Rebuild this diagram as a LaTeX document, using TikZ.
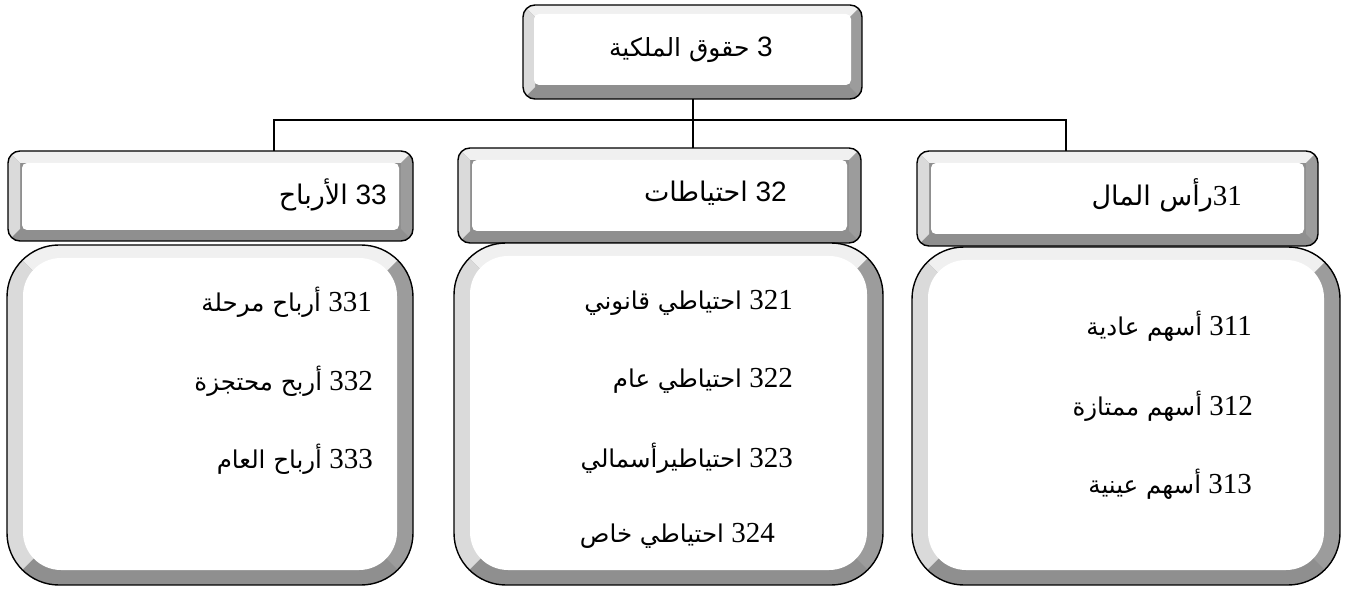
\documentclass[tikz,border=0pt]{standalone}
\usepackage{fontspec}
\setmainfont{Liberation Serif}
\newfontfamily\arabicfont[Script=Arabic]{DejaVu Sans}
\newfontfamily\sansnum{Liberation Sans}
\TeXXeTstate=1
\newcommand\artxt[2][24.5]{{\arabicfont\fontsize{#1}{30}\selectfont\beginR #2\endR}}
\definecolor{bevdark}{HTML}{8F8F8F}
\definecolor{bevright}{HTML}{9C9C9C}
\definecolor{bevleft}{HTML}{DADADA}
\definecolor{bevtop}{HTML}{F0F0F0}
% #1 x1, #2 y1, #3 x2, #4 y2, #5 outer radius, #6 inner radius, #7 side bevel, #8 top bevel, #9 bottom bevel
\newcommand\bevel[9]{%
  \begin{scope}
    \clip[rounded corners=#5] (#1,#2) rectangle (#3,#4);
    \fill[bevdark] (#1,#2) rectangle (#3,#4);
    \fill[bevtop] (#1,#2) -- (#3,#2) -- ({#3-#5},{#2+#5}) -- ({#1+#5},{#2+#5}) -- cycle;
    \fill[bevleft] (#1,#2) -- ({#1+#5},{#2+#5}) -- ({#1+#5},{#4-#5}) -- (#1,#4) -- cycle;
    \fill[bevright] (#3,#2) -- ({#3-#5},{#2+#5}) -- ({#3-#5},{#4-#5}) -- (#3,#4) -- cycle;
  \end{scope}
  \fill[white, rounded corners=#6] ({#1+#7},{#2+#8}) rectangle ({#3-#7},{#4-#9});
}
\tikzset{
  conn/.style={line width=2pt, draw=black},
  outl/.style={rectangle, draw=black, line width=1.4pt, inner sep=0pt, outer sep=0pt},
  hdrbox/.style={outl, rounded corners=12pt},
  bodybox/.style={outl, rounded corners=52pt},
  txt/.style={anchor=base east, inner sep=0pt, font=\fontsize{29}{34}\selectfont},
  sanstxt/.style={anchor=base east, inner sep=0pt, font=\sansnum\fontsize{28}{33}\selectfont},
}
\begin{document}
\begin{tikzpicture}[x=1pt, y=-1pt]
\useasboundingbox (0,0) rectangle (1357,593);
% top box
\bevel{523}{5}{862}{99}{12}{5}{11}{9}{14}
\node[hdrbox, minimum width=339pt, minimum height=94pt] (top) at (692.5,52) {};
% headers
\bevel{8}{151}{413}{241}{12}{5}{14}{12}{11}
\node[hdrbox, minimum width=405pt, minimum height=90pt] (hl) at (210.5,196) {};
\bevel{458}{148}{861}{243}{12}{5}{14}{12}{12}
\node[hdrbox, minimum width=403pt, minimum height=95pt] (hm) at (659.5,195.5) {};
\bevel{917}{151}{1318}{246}{12}{5}{14}{12}{12}
\node[hdrbox, minimum width=401pt, minimum height=95pt] (hr) at (1117.5,198.5) {};
% bodies
\bevel{7}{245}{413}{585}{52}{38}{16}{13}{15}
\node[bodybox, minimum width=406pt, minimum height=340pt] (bl) at (210,415) {};
\bevel{454}{243}{883}{585}{52}{38}{16}{13}{15}
\node[bodybox, minimum width=429pt, minimum height=342pt] (bm) at (668.5,414) {};
\bevel{912}{247}{1340}{585}{52}{38}{16}{13}{15}
\node[bodybox, minimum width=428pt, minimum height=338pt] (br) at (1126,416) {};
% connectors
\coordinate (jl) at (274,120);
\coordinate (jr) at (1066,120);
\draw[conn] (top.south) -- (top.south |- hm.north);
\draw[conn] (jl |- hl.north) -- (jl) -- (jr) -- (jr |- hr.north);
% header texts
\node[sanstxt] (t0) at (773,57) {\artxt[25]{حقوق الملكية} 3};
\node[sanstxt] (t1) at (387,205) {\artxt[27]{الأرباح} 33};
\node[sanstxt] (t2) at (787,202) {\artxt[27]{احتياطات} 32};
\node[txt] (t3) at (1242,206) {\artxt[27]{رأس المال}31};
% left body
\node[txt] (a1) at (372,312) {\artxt{أرباح مرحلة} 331};
\node[txt] (a2) at (373,390) {\artxt{أربح محتجزة} 332};
\node[txt] (a3) at (373,468) {\artxt{أرباح العام} 333};
% middle body
\node[txt] (b1) at (793,310) {\artxt{احتياطي قانوني} 321};
\node[txt] (b2) at (793,388) {\artxt{احتياطي عام} 322};
\node[txt] (b3) at (793,467) {\artxt{احتياطيرأسمالي} 323};
\node[txt] (b4) at (775,542) {\artxt{احتياطي خاص} 324};
% right body
\node[txt] (c1) at (1252,336) {\artxt{أسهم عادية} 311};
\node[txt] (c2) at (1253,415) {\artxt{أسهم ممتازة} 312};
\node[txt] (c3) at (1252,493) {\artxt{أسهم عينية} 313};
\end{tikzpicture}
\end{document}
